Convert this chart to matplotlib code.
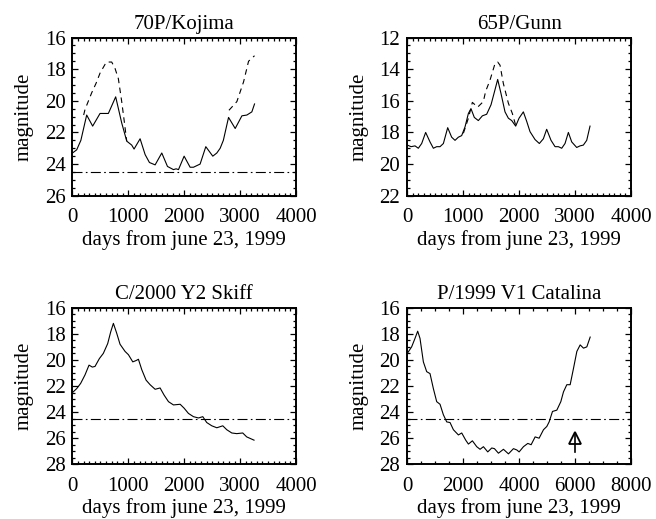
import matplotlib
matplotlib.use("Agg")
import matplotlib.pyplot as plt
from matplotlib.ticker import MultipleLocator

plt.rcParams['font.family'] = ['Liberation Serif', 'DejaVu Serif']
plt.rcParams['font.size'] = 15

# limiting magnitude (dash-dot line)
limit_mag = 24.5

# 70P/Kojima
kojima_days = [0, 75, 150, 254, 361, 493, 642, 773, 881, 971, 1060, 1102, 1210, 1300, 1377,
               1479, 1598, 1700, 1807, 1855, 1897, 1998, 2105, 2165, 2224, 2284, 2386, 2511,
               2583, 2643, 2700, 2793, 2912, 3032, 3121, 3210, 3258]
kojima_mag = [23.3, 23.1, 22.5, 20.9, 21.6, 20.8, 20.8, 19.75, 21.4, 22.55, 22.8, 23.05, 22.4,
              23.4, 23.9, 24.05, 23.3, 24.15, 24.35, 24.3, 24.35, 23.5, 24.2, 24.2, 24.1, 24.0,
              22.9, 23.5, 23.3, 23.0, 22.5, 21.05, 21.75, 20.95, 20.9, 20.7, 20.2]
kojima_days_d1 = [200, 224, 343, 421, 493, 582, 612, 702, 761, 821, 881, 923, 971]
kojima_mag_d1 = [20.9, 20.55, 19.5, 18.9, 18.25, 17.7, 17.55, 17.55, 17.95, 18.6, 20.05, 21.2,
                 22.55]
kojima_days_d2 = [2800, 2942, 3062, 3151, 3258]
kojima_mag_d2 = [20.6, 20.05, 18.8, 17.5, 17.15]

# 65P/Gunn
gunn_days = [0, 68, 138, 197, 257, 328, 406, 466, 525, 585, 645, 722, 793, 853, 913, 972, 1032,
             1092, 1139, 1198, 1270, 1342, 1419, 1497, 1568, 1616, 1676, 1747, 1807, 1867,
             1938, 1998, 2075, 2135, 2194, 2284, 2361, 2433, 2492, 2570, 2642, 2701, 2761,
             2820, 2880, 2940, 3029, 3088, 3148, 3208, 3267]
gunn_mag = [18.8, 18.9, 18.85, 19.0, 18.7, 18.0, 18.6, 19.0, 18.9, 18.9, 18.7, 17.7, 18.3, 18.5,
            18.3, 18.2, 17.65, 16.8, 16.5, 17.05, 17.25, 16.95, 16.85, 16.25, 15.3, 14.65,
            15.55, 16.7, 17.1, 17.25, 17.6, 17.1, 16.7, 17.3, 17.95, 18.45, 18.7, 18.4, 17.8,
            18.5, 18.9, 18.9, 19.0, 18.7, 18.0, 18.6, 18.95, 18.85, 18.8, 18.5, 17.6]
gunn_days_d = [1003, 1092, 1163, 1258, 1359, 1401, 1478, 1568, 1616, 1658, 1717, 1807, 1878,
               1938]
gunn_mag_d = [18.05, 17.1, 16.1, 16.4, 16.05, 15.4, 14.7, 13.65, 13.55, 13.75, 14.9, 16.15,
              16.8, 17.55]

# C/2000 Y2 Skiff
skiff_days = [0, 75, 146, 224, 296, 355, 403, 481, 552, 630, 684, 732, 791, 851, 941, 1001,
              1079, 1138, 1180, 1240, 1317, 1389, 1479, 1568, 1640, 1718, 1807, 1927, 1998,
              2075, 2165, 2254, 2332, 2403, 2493, 2583, 2690, 2761, 2851, 2940, 3047, 3118, 3249]
skiff_mag = [22.5, 22.2, 21.8, 21.15, 20.4, 20.55, 20.5, 19.9, 19.5, 18.75, 17.85, 17.2, 17.95,
             18.8, 19.35, 19.6, 20.15, 20.05, 19.95, 20.75, 21.55, 21.9, 22.25, 22.15, 22.7,
             23.2, 23.45, 23.4, 23.7, 24.1, 24.35, 24.45, 24.35, 24.8, 25.05, 25.2, 25.05,
             25.35, 25.6, 25.65, 25.6, 25.9, 26.15]

# P/1999 V1 Catalina
catalina_days = [0, 155, 275, 371, 454, 574, 693, 812, 932, 1051, 1170, 1289, 1409, 1528, 1648,
                 1827, 1946, 2089, 2185, 2328, 2483, 2602, 2722, 2877, 3020, 3116, 3259, 3438,
                 3617, 3796, 3915, 3999, 4154, 4309, 4428, 4571, 4714, 4870, 4989, 5072, 5192,
                 5347, 5490, 5585, 5704, 5824, 5943, 6063, 6182, 6301, 6420, 6540]
catalina_mag = [19.5, 19.0, 18.35, 17.8, 18.35, 20.15, 20.9, 21.05, 22.2, 23.2, 23.4, 24.2,
                24.75, 24.8, 25.35, 25.75, 25.6, 26.15, 26.45, 26.2, 26.65, 26.85, 26.65,
                27.05, 26.75, 26.8, 27.15, 26.85, 27.2, 26.8, 26.9, 27.05, 26.65, 26.4, 26.5,
                25.9, 26.0, 25.35, 25.1, 24.75, 23.95, 23.85, 23.2, 22.45, 21.9, 21.9, 20.65,
                19.35, 18.85, 19.1, 19.0, 18.25]
arrow_day = 6000
arrow_stem = [27.05, 25.7]
arrow_head = 26.0

fig = plt.figure(figsize=(6.56, 5.19), dpi=100)
axes_rects = [
    [0.1105, 0.6229, 0.3407, 0.3048],
    [0.6209, 0.6229, 0.3410, 0.3048],
    [0.1105, 0.1054, 0.3407, 0.3017],
    [0.6209, 0.1054, 0.3410, 0.3017],
]
titles = ["70P/Kojima", "65P/Gunn", "C/2000 Y2 Skiff", "P/1999 V1 Catalina"]
xlims = [(0, 4000), (0, 4000), (0, 4000), (0, 8000)]
ylims = [(26, 16), (22, 12), (28, 16), (28, 16)]
xmajor = [1000, 1000, 1000, 2000]
xminor = [100, 100, 100, 500]
show_limit = [True, False, True, True]

axs = []
for rect, title, xl, yl, xmj, xmn, lim in zip(axes_rects, titles, xlims, ylims, xmajor, xminor,
                                               show_limit):
    ax = fig.add_axes(rect)
    ax.set_xlim(*xl)
    ax.set_ylim(*yl)
    ax.set_title(title, fontsize=15, pad=6)
    ax.set_xlabel("days from june 23, 1999", fontsize=15, labelpad=2)
    ax.set_ylabel("magnitude", fontsize=15, labelpad=8)
    ax.xaxis.set_major_locator(MultipleLocator(xmj))
    ax.xaxis.set_minor_locator(MultipleLocator(xmn))
    ax.yaxis.set_major_locator(MultipleLocator(2))
    ax.yaxis.set_minor_locator(MultipleLocator(0.5))
    ax.tick_params(which='both', direction='in', top=True, right=True, labelsize=15)
    ax.tick_params(which='major', length=4, width=0.9)
    ax.tick_params(which='minor', length=2, width=0.9)
    ax.tick_params(axis='x', pad=9)
    ax.tick_params(axis='y', pad=5)
    for sp in ax.spines.values():
        sp.set_linewidth(1.4)
    if lim:
        ax.axhline(limit_mag, color='black', lw=0.8, dashes=(9, 3, 1.5, 3))
    axs.append(ax)

lw = 0.8
axs[0].plot(kojima_days, kojima_mag, color='black', lw=lw)
axs[0].plot(kojima_days_d1, kojima_mag_d1, color='black', lw=lw, dashes=(5, 4))
axs[0].plot(kojima_days_d2, kojima_mag_d2, color='black', lw=lw, dashes=(5, 4))

axs[1].plot(gunn_days, gunn_mag, color='black', lw=lw)
axs[1].plot(gunn_days_d, gunn_mag_d, color='black', lw=lw, dashes=(5, 4))

axs[2].plot(skiff_days, skiff_mag, color='black', lw=lw)

axs[3].plot(catalina_days, catalina_mag, color='black', lw=lw)
axs[3].plot([arrow_day, arrow_day], arrow_stem, color='black', lw=1.2)
axs[3].plot([arrow_day], [arrow_head], marker='^', markersize=9, markerfacecolor='none',
            markeredgecolor='black', markeredgewidth=1.3, linestyle='none')

fig.savefig("out.png", dpi=100)
